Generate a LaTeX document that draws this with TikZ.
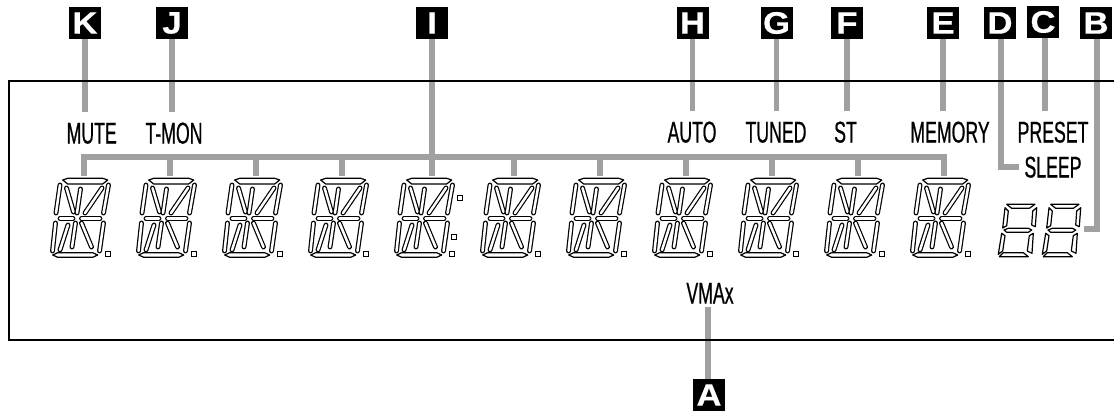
\documentclass[tikz,border=0pt]{standalone}
\usepackage{fontspec}
\usepackage{tikz}
\usetikzlibrary{positioning}
\setmainfont{Liberation Sans}
\newfontfamily\labelfont[FakeStretch=0.59,FakeBold=0.6]{Liberation Sans}
\newfontfamily\tagfont[FakeStretch=1.12,FakeBold=0.5]{Liberation Sans}
\definecolor{leadergray}{HTML}{A0A0A0}
\tikzset{
    tagbox/.style={fill=black, text=white, minimum size=32pt, inner sep=0pt, font=\tagfont\bfseries\fontsize{31}{31}\selectfont},
    lcdlabel/.style={inner sep=0pt, font=\labelfont\fontsize{30}{30}\selectfont, text height=21pt, text depth=0pt},
    leader/.style={draw=leadergray, line width=5.5pt},
    seg/.style={double=white, double distance=2.5pt, line width=1.2pt, line cap=round},
    segbar/.style={draw=black, fill=white, line width=1.2pt, line join=round},
    segdot/.style={draw=black, fill=white, line width=1.2pt},
    pics/alphadigit/.style={code={
        \draw[segbar] (-21.3,0) -- (-16.3,-1.7) -- (18.7,-1.7) -- (23.7,0) -- (18.7,4) -- (-16.3,4) -- cycle;
        \draw[segbar] (-31.3,75) -- (-26.3,72.7) -- (8.7,72.7) -- (13.7,75) -- (8.7,77.3) -- (-26.3,77.3) -- cycle;
        \foreach \xa/\ya/\xb/\yb in {-24/5/-28/33, 24.5/5/19.5/33, -17.5/8/-10.5/32, -3.5/9/-7/33, 18/8/1/33,
            -24/38.5/-11/38.5, -2.5/38.5/16/38.5, -28.5/43/-31.5/71, -24/70/-16/45, -8.5/43/-12/67,
            -2.5/43/7.5/67, 19.5/43/15.5/71}
            \draw[seg] (\xa,\ya) -- (\xb,\yb);
        \draw[segdot] (21.5,71.5) rectangle ++(5,5);
    }},
    pics/sevendigit/.style={code={
        \draw[segbar] (16.7,9.3) -- (45,9.3) -- (39.3,13.3) -- (21.7,13.3) -- cycle;
        \draw[segbar] (15,12.7) -- (18.3,16) -- (16.7,30.7) -- (12.7,33) -- cycle;
        \draw[segbar] (46.7,12.7) -- (45.3,31.7) -- (41.7,30) -- (42.7,16) -- cycle;
        \draw[segbar] (14,35) -- (18.3,33.3) -- (38.3,33.3) -- (41.7,35) -- (38.3,37.3) -- (16.7,37.3) -- cycle;
        \draw[segbar] (11.7,38.3) -- (15,40.7) -- (12.7,56) -- (8.3,59.3) -- cycle;
        \draw[segbar] (43.3,38.3) -- (42,58.3) -- (37.3,56) -- (39.3,40.7) -- cycle;
        \draw[segbar] (9.3,61.7) -- (13.3,57.7) -- (33.3,57.7) -- (38.3,61.7) -- cycle;
    }}
}

\begin{document}
\begin{tikzpicture}[x=1pt, y=-1pt]
\useasboundingbox (0,0) rectangle (1114,412);

\node[tagbox] (tagK) at (85,23) {K};
\node[tagbox] (tagJ) at (172,23) {J};
\node[tagbox] (tagI) at (432,23) {I};
\node[tagbox] (tagH) at (692.5,23) {H};
\node[tagbox] (tagG) at (776.5,23) {G};
\node[tagbox] (tagF) at (847,23) {F};
\node[tagbox] (tagE) at (943,23) {E};
\node[tagbox] (tagD) at (1000,23) {D};
\node[tagbox] (tagC) at (1043,22) {C};
\node[tagbox] (tagB) at (1096,23) {B};
\node[tagbox] (tagA) at (709,395) {A};

\node[lcdlabel] (mute) at (91.7,133) {MUTE};
\node[lcdlabel] (tmon) at (174,133) {T-MON};
\node[lcdlabel] (auto) at (692,132) {AUTO};
\node[lcdlabel] (tuned) at (776,132) {TUNED};
\node[lcdlabel] (st) at (845.5,132) {ST};
\node[lcdlabel] (memory) at (950,132) {MEMORY};
\node[lcdlabel] (preset) at (1053,132) {PRESET};
\node[lcdlabel] (sleep) at (1053,167) {SLEEP};
\node[lcdlabel] (vmax) at (710,293) {VMAx};

% 14-segment digits
\foreach \i/\x in {1/84, 2/170, 3/256, 4/342, 5/428, 6/514, 7/600, 8/686, 9/772, 10/858, 11/944} {
    \pic at (\x,180) {alphadigit};
    \coordinate (d\i) at (\x,176);
}
\draw[segdot] (457.5,195.5) rectangle ++(5,5);
\draw[segdot] (451.5,234.5) rectangle ++(5,5);
\pic at (990,195) {sevendigit};
\pic at (1034,195) {sevendigit};

\coordinate (dI) at (432,176);
\coordinate (busL) at (84,157);
\coordinate (busR) at (944,157);
\coordinate (sevenB) at (1083.5,229);

% leaders go under the panel outline
\draw[leader] (d1) -- (busL) -- (busR) -- (d11);
\foreach \i in {2,3,4,6,7,8,9,10}
    \draw[leader] (d\i) -- (d\i |- busL);
\draw[leader] (tagI) -- (dI);
\foreach \t/\l in {tagK/mute, tagJ/tmon, tagH/auto, tagG/tuned, tagF/st, tagE/memory}
    \draw[leader, shorten >=10pt] (\t.south) -- (\t.south |- \l.north);
\draw[leader, shorten >=10pt] ([xshift=2pt]tagC.south) -- ([xshift=2pt]tagC.south |- preset.north);
\draw[leader, shorten >=5pt] ([xshift=1pt]tagD.south) |- (sleep.west);
\draw[leader] ([xshift=1pt]tagB.south) |- (sevenB);
\draw[leader, shorten >=3pt] ([xshift=-1pt]tagA.north) -- ([xshift=-1pt]tagA.north |- vmax.south);

\coordinate (panelTR) at (1114,81);
\coordinate (panelBR) at (1114,339.5);
\draw[line width=2pt] (panelTR) -- (8.5,81) -- (8.5,339.5) -- (panelBR);
\end{tikzpicture}
\end{document}
